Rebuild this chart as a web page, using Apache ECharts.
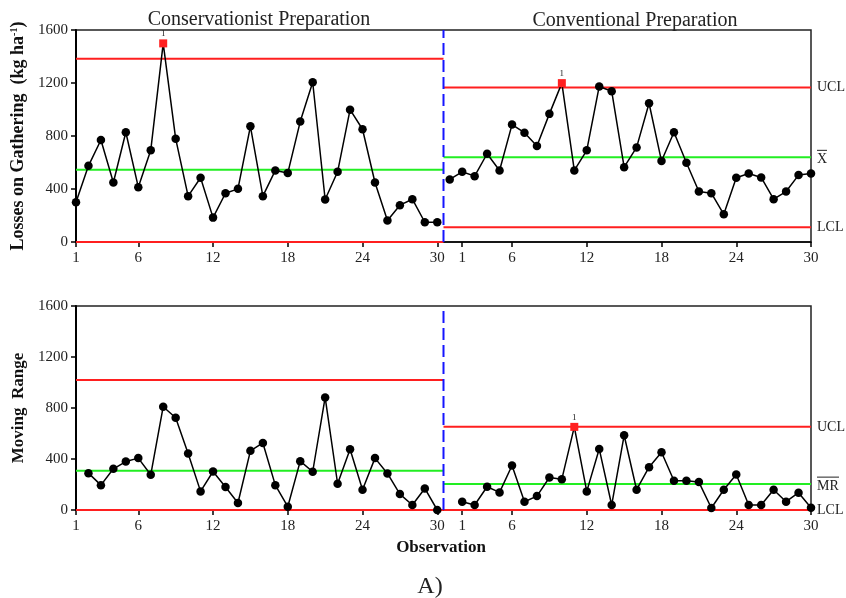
<!DOCTYPE html>
<html>
<head>
<meta charset="utf-8">
<script src="https://cdn.jsdelivr.net/npm/echarts@6/dist/echarts.min.js"></script>
<style>
html,body{margin:0;padding:0;background:#fff;}
#chart{width:846px;height:598px;}
</style>
</head>
<body>
<div id="chart"></div>
<script>
// ---- Data ----
const observations = [1,2,3,4,5,6,7,8,9,10,11,12,13,14,15,16,17,18,19,20,21,22,23,24,25,26,27,28,29,30];
const stageTitles = ['Conservationist Preparation', 'Conventional Preparation'];

// Individual values: losses on gathering (kg ha-1)
const consLoss = [300,575,770,449,828,414,692,1499,780,346,485,184,368,401,873,346,540,520,909,1206,321,530,999,851,449,162,278,323,149,149];
const convLoss = [472,530,497,666,540,886,825,724,967,1199,540,692,1174,1138,565,714,1047,611,828,598,381,368,209,485,517,487,323,381,505,517];

// Moving ranges (first observation has none)
const consMR = [null,289,195,323,380,407,276,810,724,443,146,302,180,55,464,526,195,26,383,300,883,206,477,159,407,287,125,39,169,0];
const convMR = [null,65,39,182,138,349,65,109,255,242,652,146,479,39,586,159,336,453,229,229,219,16,159,279,39,39,159,65,136,18];

// Control limits [conservationist, conventional]
const indUCL = [1383, 1166];
const indMean = [545, 639];
const indLCL = [0, 111];
const mrUCL = [1019, 652];
const mrMean = [307, 203];
const mrLCL = [0, 0];

// Out-of-control points (observation number, 1-based) flagged with test "1"
const consLossFlag = [8];
const convLossFlag = [10];
const consMRFlag = [];
const convMRFlag = [11];

// Tick labels on the observation axis
const tickPositions = [1,6,12,18,24,30,32,36,42,48,54,60];
const tickLabels = ['1','6','12','18','24','30','1','6','12','18','24','30'];
const yTicks = [0,400,800,1200,1600];

// ---- Build chart ----
const N = observations.length;
const stageBreak = N + 0.5;
const FONT = 'Liberation Serif';
const RED = '#ff1f1f', GREEN = '#22ee22', BLUE = '#1515ff', BLACK = '#000';

function pointsSeries(values, flags, offset, gridIdx) {
  const data = [];
  values.forEach((v, i) => {
    if (v === null) return;
    const x = observations[i] + offset;
    if (flags.indexOf(observations[i]) >= 0) {
      data.push({
        value: [x, v], symbol: 'rect', symbolSize: 8,
        itemStyle: { color: RED },
        label: { show: true, position: 'top', distance: 1, formatter: '1',
                 fontFamily: FONT, fontSize: 9, color: '#222' }
      });
    } else {
      data.push([x, v]);
    }
  });
  return {
    type: 'line', xAxisIndex: gridIdx, yAxisIndex: gridIdx, data: data,
    symbol: 'circle', symbolSize: 8.5, z: 5,
    itemStyle: { color: BLACK }, lineStyle: { color: BLACK, width: 1.5 },
    silent: true, animation: false
  };
}

function limitSeries(y, stage, color, gridIdx, labelText) {
  const x0 = stage === 0 ? observations[0] : stageBreak;
  const x1 = stage === 0 ? stageBreak : observations[N - 1] + N;
  const s = {
    type: 'line', xAxisIndex: gridIdx, yAxisIndex: gridIdx,
    data: [[x0, y], [x1, y]], symbol: 'none', z: 3,
    lineStyle: { color: color, width: 2 }, silent: true, animation: false
  };
  if (labelText) {
    s.endLabel = {
      show: true, formatter: labelText, distance: 6,
      fontFamily: FONT, fontSize: 14, color: '#222',
      rich: {
        bar: { width: labelText.indexOf('MR') >= 0 ? 22 : 10, height: 1, backgroundColor: '#222', lineHeight: 4 },
        t: { fontFamily: FONT, fontSize: 14, color: '#222', lineHeight: 14 }
      }
    };
  }
  return s;
}

function breakSeries(gridIdx) {
  return {
    type: 'line', xAxisIndex: gridIdx, yAxisIndex: gridIdx,
    data: [[stageBreak, yTicks[0]], [stageBreak, yTicks[yTicks.length - 1]]],
    symbol: 'none', z: 4,
    lineStyle: { color: BLUE, width: 2, type: [12, 5] }, silent: true, animation: false
  };
}

const series = [
  breakSeries(0), breakSeries(1),
  // individuals chart limits
  limitSeries(indUCL[0], 0, RED, 0), limitSeries(indMean[0], 0, GREEN, 0), limitSeries(indLCL[0], 0, RED, 0),
  limitSeries(indUCL[1], 1, RED, 0, 'UCL'), limitSeries(indMean[1], 1, GREEN, 0, '{bar|}\n{t|X}'), limitSeries(indLCL[1], 1, RED, 0, 'LCL'),
  // moving range chart limits
  limitSeries(mrUCL[0], 0, RED, 1), limitSeries(mrMean[0], 0, GREEN, 1), limitSeries(mrLCL[0], 0, RED, 1),
  limitSeries(mrUCL[1], 1, RED, 1, 'UCL'), limitSeries(mrMean[1], 1, GREEN, 1, '{bar|}\n{t|MR}'), limitSeries(mrLCL[1], 1, RED, 1, 'LCL'),
  // data
  pointsSeries(consLoss, consLossFlag, 0, 0),
  pointsSeries(convLoss, convLossFlag, N, 0),
  pointsSeries(consMR, consMRFlag, 0, 1),
  pointsSeries(convMR, convMRFlag, N, 1)
];

function xAxis(gridIdx) {
  return {
    type: 'value', gridIndex: gridIdx, min: 1, max: 2 * N,
    axisLine: { show: true, lineStyle: { color: BLACK, width: 1.5 } },
    axisTick: { show: true, customValues: tickPositions, length: 5, lineStyle: { color: BLACK, width: 1.5 } },
    axisLabel: {
      show: true, customValues: tickPositions, margin: 9,
      fontFamily: FONT, fontSize: 15, color: '#222',
      formatter: v => tickLabels[tickPositions.indexOf(v)]
    },
    splitLine: { show: false }
  };
}

function yAxis(gridIdx, name, size, gap) {
  return {
    type: 'value', gridIndex: gridIdx, min: yTicks[0], max: yTicks[yTicks.length - 1], interval: 400,
    axisLine: { show: true, lineStyle: { color: BLACK, width: 2 } },
    axisTick: { show: true, length: 5, lineStyle: { color: BLACK, width: 1.5 } },
    axisLabel: { fontFamily: FONT, fontSize: 15, color: '#222', margin: 8, formatter: v => String(v) },
    splitLine: { show: false },
    name: name, nameLocation: 'middle', nameGap: gap, nameRotate: 90,
    nameTextStyle: {
      fontFamily: FONT, fontWeight: 'bold', fontSize: size, color: '#111',
      rich: {
        sup: { fontFamily: FONT, fontWeight: 'bold', fontSize: 10, color: '#111', verticalAlign: 'top', padding: [0, 0, 8, 0] }
      }
    }
  };
}

const chart = echarts.init(document.getElementById('chart'), null, { renderer: 'canvas' });
chart.setOption({
  backgroundColor: '#fff',
  animation: false,
  grid: [
    { left: 76, right: 35, top: 30, height: 212, show: true, borderColor: '#222', borderWidth: 1.5, backgroundColor: 'transparent' },
    { left: 76, right: 35, top: 306, height: 204, show: true, borderColor: '#222', borderWidth: 1.5, backgroundColor: 'transparent' }
  ],
  xAxis: [xAxis(0), xAxis(1)],
  yAxis: [
    yAxis(0, 'Losses on Gathering  (kg ha{sup|-1})', 18, 44),
    yAxis(1, 'Moving  Range', 17, 44)
  ],
  series: series,
  graphic: [
    { type: 'text', x: 259, y: 20, style: { text: stageTitles[0], fontFamily: FONT, fontSize: 20, fill: '#222', textAlign: 'center', textVerticalAlign: 'middle' } },
    { type: 'text', x: 635, y: 21, style: { text: stageTitles[1], fontFamily: FONT, fontSize: 20, fill: '#222', textAlign: 'center', textVerticalAlign: 'middle' } },
    { type: 'text', x: 441, y: 548, style: { text: 'Observation', fontFamily: FONT, fontWeight: 'bold', fontSize: 17, fill: '#111', textAlign: 'center', textVerticalAlign: 'middle' } },
    { type: 'text', x: 430, y: 587, style: { text: 'A)', fontFamily: FONT, fontSize: 24, fill: '#222', textAlign: 'center', textVerticalAlign: 'middle' } }
  ]
});
</script>
</body>
</html>
